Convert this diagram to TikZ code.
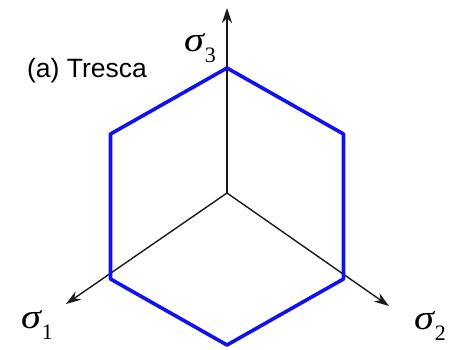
\documentclass[tikz,border=0pt]{standalone}
\usepackage{amsmath,amssymb}
\usepackage{graphicx}
\usepackage{fontspec}
\setsansfont{Liberation Sans}
\newfontfamily\sigfont{Liberation Serif}
\usetikzlibrary{arrows.meta}
\definecolor{tresblue}{HTML}{1010F0}
\definecolor{axisgray}{HTML}{1A1A1A}
\newcommand{\sigsub}[1]{\scalebox{1.15}[1]{\itshape σ}\kern1pt\raisebox{-0.3em}{\fontsize{22}{24}\selectfont #1}}
\tikzset{
  every picture/.style={line join=round, line cap=round, >={Stealth[length=15pt,width=10pt]}},
  axis/.style={->,axisgray,line width=1.4pt},
  yield/.style={tresblue,line width=3.6pt},
  siglabel/.style={font=\sigfont\fontsize{35}{38}\selectfont, inner sep=0pt},
}

\begin{document}
\begin{tikzpicture}[x=1pt,y=-1pt]
\useasboundingbox (0,0) rectangle (450,350);
\coordinate (o) at (227.000,193.000);
\coordinate (t3) at (227.000,8.000);
\coordinate (t1) at (66.000,304.000);
\coordinate (t2) at (389.000,306.000);
\coordinate (h1) at (227.000,68.000);
\coordinate (h2) at (343.500,134.000);
\coordinate (h3) at (343.500,279.000);
\coordinate (h4) at (227.000,345.000);
\coordinate (h5) at (110.500,279.000);
\coordinate (h6) at (110.500,134.000);
\draw[axis] (o)--(t3);
\draw[axis] (o)--(t1);
\draw[axis] (o)--(t2);
\draw[yield] (h1)--(h2)--(h3)--(h4)--(h5)--(h6)--cycle;
\node[siglabel] (s3) at (200.000,48.000) {\sigsub{3}};
\node[siglabel] (s1) at (37.000,325.000) {\sigsub{1}};
\node[siglabel] (s2) at (430.000,326.000) {\sigsub{2}};
\node[font=\sffamily\fontsize{26.5}{30}\selectfont] (ttl) at (87.000,71.000) {(a) Tresca};
\end{tikzpicture}
\end{document}
